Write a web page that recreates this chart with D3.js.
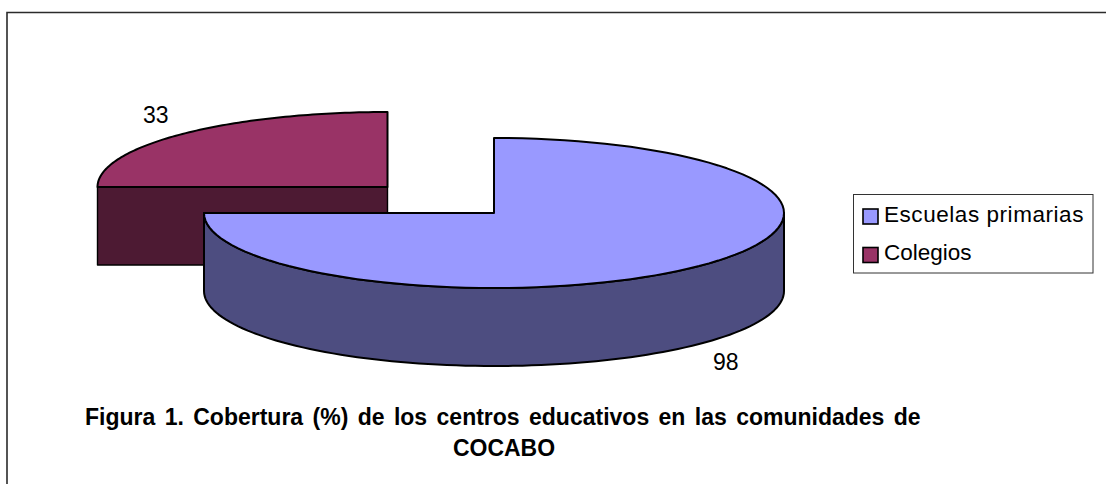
<!DOCTYPE html>
<html><head><meta charset="utf-8">
<script src="https://cdn.jsdelivr.net/npm/d3@7"></script>
<style>html,body{margin:0;padding:0;background:#fff}svg{display:block}text{font-family:"Liberation Sans",Arial,sans-serif;fill:#000}</style>
</head><body><svg id="c" width="1106" height="484"></svg>
<script>
const categories = ["Escuelas primarias", "Colegios"];
const values = [98, 33];
const topColors = ["#9999FF", "#993366"];
const sideColors = ["#4D4D80", "#4D1A33"];
const titleLines = ["Figura 1. Cobertura (%) de los centros educativos en las comunidades de", "COCABO"];

const svg = d3.select("#c");
// frame: only the top and left edges are inside the picture
svg.append("path").attr("d","M7,484V12.5H1106").attr("fill","none").attr("stroke","#2b2b2b").attr("stroke-width",1.6);

const rx = 290, ry = 75, depth = 78;
// the original's 3-D renderer snaps this pie's cut to the quarter turn
const snap = a => Math.round(a/(Math.PI/2))*(Math.PI/2);
const arcs = d3.pie().sort(null)(values).map(d => ({...d, a0: snap(d.startAngle), a1: snap(d.endAngle)}));
const centers = [[494,213],[387.5,187]];
const pt = (c,a,dy=0) => [c[0]+rx*Math.sin(a), c[1]-ry*Math.cos(a)+dy];
function ell(p,c,a0,a1,dy=0){
  const n = 96;
  d3.range(1,n+1).forEach(i=>{const q=pt(c,a0+(a1-a0)*i/n,dy);p.lineTo(q[0],q[1]);});
}
function topPath(c,a0,a1){
  const p=d3.path(); p.moveTo(c[0],c[1]); const s=pt(c,a0); p.lineTo(s[0],s[1]); ell(p,c,a0,a1); p.closePath(); return p.toString();
}
function wallPath(c,a0,a1){
  const p=d3.path(); const s=pt(c,a0); p.moveTo(s[0],s[1]); ell(p,c,a0,a1);
  const e=pt(c,a1,depth); p.lineTo(e[0],e[1]); ell(p,c,a1,a0,depth); p.closePath(); return p.toString();
}
function cutPath(c,a){
  const p=d3.path(); const s=pt(c,a);
  p.moveTo(s[0],s[1]); p.lineTo(c[0],c[1]); p.lineTo(c[0],c[1]+depth); p.lineTo(s[0],s[1]+depth); p.closePath(); return p.toString();
}
const pieG = svg.append("g").attr("stroke","#000").attr("stroke-width",2).attr("stroke-linejoin","round");
[1,0].forEach(i=>{
  const c=centers[i], d=arcs[i];
  const g=pieG.append("g");
  if(i===1){
    g.append("path").attr("d",cutPath(c,d.a0)).attr("fill",sideColors[i]).attr("stroke-width",1.4);
  } else {
    g.append("path").attr("d",wallPath(c,Math.PI/2,d.a1)).attr("fill",sideColors[i]);
  }
  g.append("path").attr("d",topPath(c,d.a0,d.a1)).attr("fill",topColors[i]);
});

const lab=svg.append("g").attr("font-size",23);
lab.append("text").attr("x",143).attr("y",122.5).text(values[1]);
lab.append("text").attr("x",713).attr("y",369.5).text(values[0]);

const lg=svg.append("g");
lg.append("rect").attr("x",853.5).attr("y",194.5).attr("width",239.5).attr("height",78.5).attr("fill","#fff").attr("stroke","#333").attr("stroke-width",1);
const ly=d3.scalePoint().domain(categories).range([216.5,255]);
categories.forEach((c,i)=>{
  lg.append("rect").attr("x",863).attr("y",ly(c)-7.5).attr("width",15).attr("height",15).attr("fill",topColors[i]).attr("stroke","#000").attr("stroke-width",1.6);
  lg.append("text").attr("x",884).attr("y",ly(c)+5).attr("font-size",22.5).attr("letter-spacing",i===0?0.55:0).text(c);
});

const t=svg.append("g").attr("font-size",23).attr("font-weight","bold");
t.append("text").attr("x",85).attr("y",425).attr("word-spacing",3).text(titleLines[0]);
t.append("text").attr("x",504).attr("y",456).attr("text-anchor","middle").text(titleLines[1]);
</script></body></html>
